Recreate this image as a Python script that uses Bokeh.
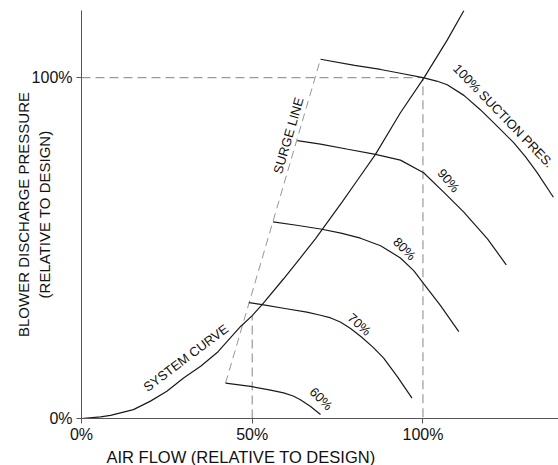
from bokeh.plotting import figure
from bokeh.models import FixedTicker, Range1d, Title
from bokeh.core.properties import value
from bokeh.embed import file_html
from bokeh.resources import INLINE

FONT = "Liberation Sans"

# ---- data (air flow %, discharge pressure %) ----
system_x = [0, 5.6, 8.5, 15.2, 20.2, 25, 29.9, 35, 40, 46.6, 50, 52.9, 59.2, 64, 68.5, 76.3, 81, 86.1, 93.4, 100.2, 107.1, 112]
system_y = [0, 0.5, 0.9, 2.6, 5.1, 8.0, 11.9, 15.4, 19.6, 27, 30.2, 33.4, 41, 47, 52.7, 63.5, 70.2, 77.5, 89.7, 99.8, 111, 119.7]

c100_x = [70, 80, 87.6, 93.4, 100, 104, 107.1, 112, 116.8, 121.5, 126.5, 130, 133.4, 138.2]
c100_y = [105.4, 103.6, 102.4, 101.3, 100, 99.0, 97.9, 94.8, 90.6, 86.0, 81, 76.8, 72.2, 64.9]

c90_x = [63.2, 70, 78, 86.1, 93.4, 100.2, 106, 111.9, 118.9, 124.4]
c90_y = [81.5, 80.5, 79.0, 77.5, 75.8, 72.1, 66.5, 60.6, 52.7, 45.1]

c80_x = [56.1, 63, 70, 76, 81.7, 87.6, 93.4, 97.3, 100.2, 105.1, 110.5]
c80_y = [57.7, 56.7, 55.6, 54.4, 52.9, 50.7, 47.1, 43.4, 39.6, 33.2, 25.5]

c70_x = [49, 52.9, 60, 66, 70, 73, 75.8, 78.8, 82, 85.5, 88.5, 92.5, 96.8]
c70_y = [34, 33.4, 32.2, 31.2, 30.3, 29.5, 28.3, 26.4, 23.9, 20.8, 17.7, 12.3, 6]

c60_x = [42.2, 49.5, 55, 59.2, 62, 64.1, 67, 70]
c60_y = [10.4, 9.4, 8.4, 7.5, 6.6, 5.5, 3.6, 1.2]

surge_x = [42.2, 70]
surge_y = [10.4, 105.4]

design_flow = 100
design_pressure = 100
half_flow = 50
half_flow_pressure = 30.2

x_ticks = [0, 50, 100]
x_tick_labels = ["0%", "50%", "100%"]
y_ticks = [0, 100]
y_tick_labels = ["0%", "100%"]

x_title = "AIR FLOW (RELATIVE TO DESIGN)"
y_title = "BLOWER DISCHARGE PRESSURE\n(RELATIVE TO DESIGN)"

label_text = ["SYSTEM CURVE", "SURGE LINE", "100% SUCTION PRES.", "90%", "80%", "70%", "60%"]
label_x = [30.6, 60.6, 123.6, 107.5, 94.6, 81.4, 70.2]
label_y = [17.8, 83.0, 88.8, 69.8, 49.8, 27.6, 5.8]
label_angle = [37, 73.8, -46, -50, -45, -42, -45]

p = figure(width=558, height=465, output_backend="svg", toolbar_location=None,
           x_range=Range1d(0, 139.7), y_range=Range1d(0, 119.7),
           min_border_left=81, min_border_right=0, min_border_top=10, min_border_bottom=44)
p.outline_line_color = None
p.xgrid.visible = False
p.ygrid.visible = False
p.background_fill_color = "white"

for ax in (p.xaxis[0], p.yaxis[0]):
    ax.axis_line_color = "#555555"
    ax.major_tick_line_color = "#555555"
    ax.major_tick_out = 5
    ax.major_tick_in = 0
    ax.minor_tick_line_color = None
    ax.major_label_text_font = FONT
    ax.major_label_text_font_size = "16px"
    ax.major_label_text_color = "#111111"

p.xaxis.ticker = FixedTicker(ticks=x_ticks)
p.xaxis.major_label_overrides = dict(zip(x_ticks, x_tick_labels))
p.yaxis.ticker = FixedTicker(ticks=y_ticks)
p.yaxis.major_label_overrides = dict(zip(y_ticks, y_tick_labels))
p.xaxis.major_label_standoff = 2
p.yaxis.major_label_standoff = 4

p.yaxis.axis_label = y_title
p.yaxis.axis_label_text_font = FONT
p.yaxis.axis_label_text_font_size = "15px"
p.yaxis.axis_label_text_font_style = "normal"
p.yaxis.axis_label_text_color = "#111111"
p.yaxis.axis_label_standoff = -24

p.add_layout(Title(text=x_title, align="left", offset=25, standoff=0,
                   text_font=FONT, text_font_size="16.5px", text_font_style="normal",
                   text_color="#111111"), "below")

# reference dashed lines
p.line([0, design_flow, design_flow], [design_pressure, design_pressure, 0],
       line_color="#9a9a9a", line_width=1.2, line_dash="9 5")
p.line([half_flow, half_flow], [0, half_flow_pressure],
       line_color="#9a9a9a", line_width=1.2, line_dash="9 5")
p.line(surge_x, surge_y, line_color="#8a8a8a", line_width=0.9, line_dash="8 5")

for xs, ys in [(system_x, system_y), (c100_x, c100_y), (c90_x, c90_y),
               (c80_x, c80_y), (c70_x, c70_y), (c60_x, c60_y)]:
    p.line(xs, ys, line_color="#1a1a1a", line_width=1.2)

p.text(x=label_x, y=label_y, text=label_text, angle=label_angle, angle_units="deg",
       text_font=value(FONT), text_font_size="13px", text_color="#111111",
       text_align="center", text_baseline="middle")

open("out.html", "w").write(file_html(p, INLINE))
